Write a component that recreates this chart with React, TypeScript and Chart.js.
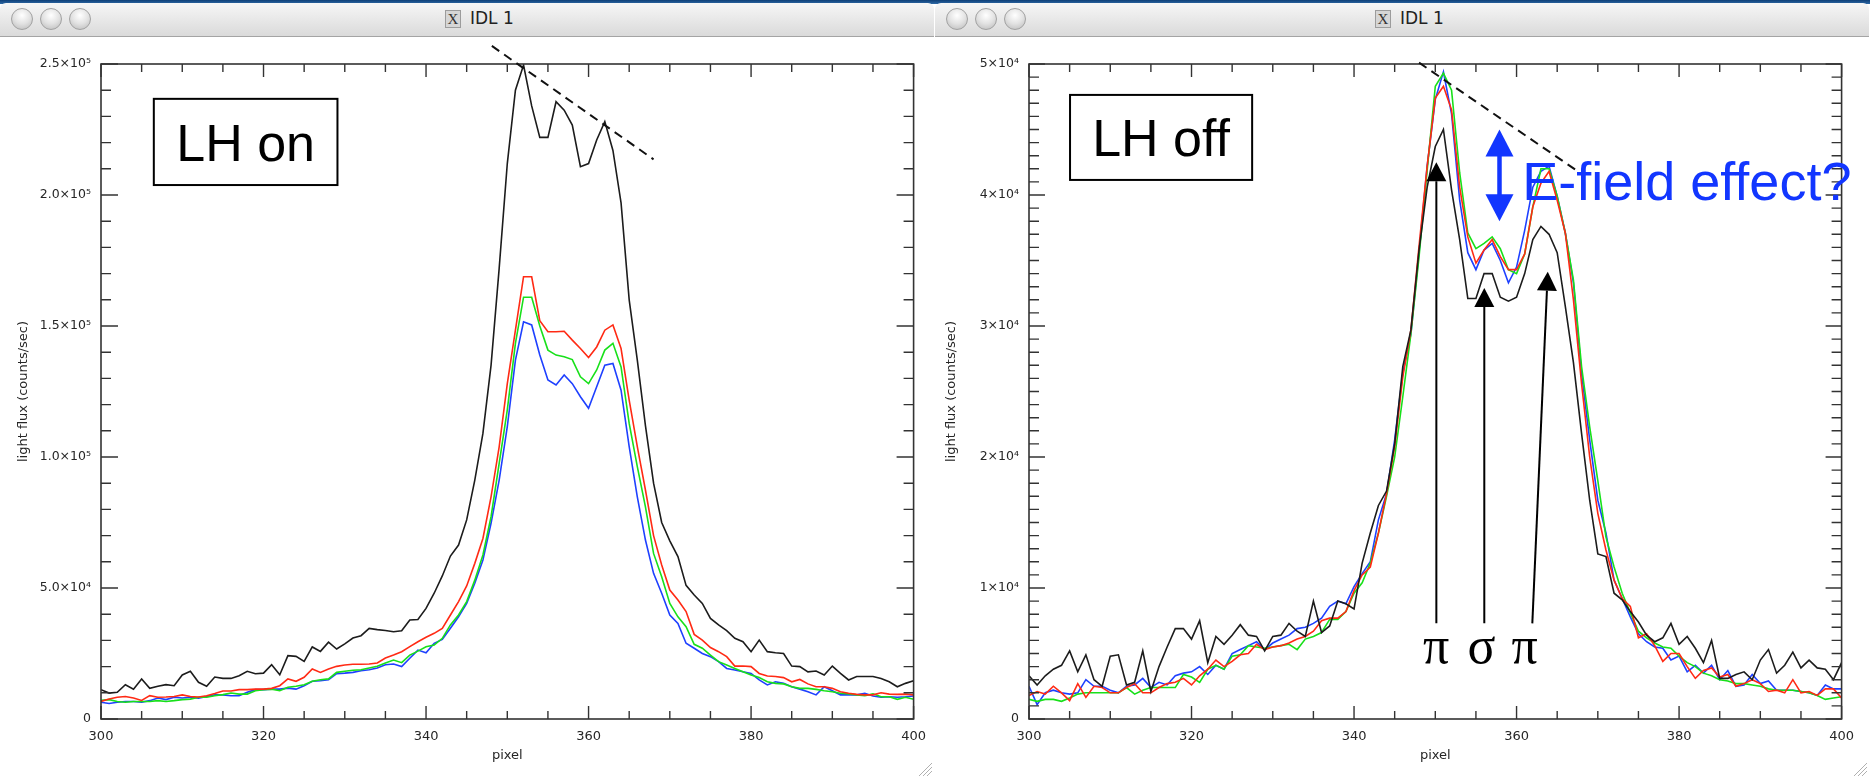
import React, { useEffect, useRef } from "react";
import { Chart, registerables } from "chart.js";

Chart.register(...registerables);

// ---------- data ----------
const PIXELS = Array.from({ length: 101 }, (_, i) => 300 + i);

const X_TICKS = [300, 320, 340, 360, 380, 400];
const X_TICK_LABELS = ["300", "320", "340", "360", "380", "400"];

// LH on panel (values in 10^3 counts/sec)
const ON_Y_TICKS = [0, 50, 100, 150, 200, 250];
const ON_Y_TICK_LABELS = ["0", "5.0×10⁴", "1.0×10⁵", "1.5×10⁵", "2.0×10⁵", "2.5×10⁵"];

const ON_BLACK = [
  11.2, 9.9, 10.2, 13.1, 11.4, 15.3, 11.7, 12.5, 13.1, 12.7,
  16.8, 18.2, 14.0, 12.5, 16.0, 15.5, 15.5, 16.5, 18.2, 17.3,
  17.5, 20.7, 16.9, 24.2, 23.9, 22.0, 27.5, 25.8, 29.3, 26.7,
  28.7, 30.9, 31.8, 34.6, 34.1, 33.8, 33.3, 33.7, 37.8, 38.0,
  42.2, 48.0, 54.6, 62.2, 66.4, 76.0, 91.2, 109, 135, 172,
  212, 240, 249.6, 234, 222, 222, 235.6, 232.4, 226.7, 210.8,
  212, 221, 228, 217, 197, 160, 137, 112, 90, 75,
  68, 62, 51, 47.3, 44.1, 38.4, 35.9, 33.7, 30.8, 29.5,
  25.7, 30.1, 25.7, 25.3, 25.0, 20.2, 20.0, 18.0, 18.3, 16.8,
  20.2, 17.4, 14.9, 16.2, 16.2, 16.2, 15.5, 14.2, 12.3, 13.6,
  14.6,
];
const ON_RED = [
  6.7, 7.6, 8.3, 8.6, 8.0, 7.1, 8.9, 8.3, 8.4, 8.6,
  9.2, 8.6, 8.4, 8.9, 9.7, 10.7, 10.7, 11.2, 11.2, 11.4,
  11.4, 11.7, 12.7, 15.3, 14.4, 15.9, 19.1, 17.8, 19.1, 20.1,
  20.6, 20.9, 20.9, 21.0, 21.4, 23.3, 24.4, 25.7, 27.6, 29.5,
  31.2, 32.7, 34.6, 39.7, 44.8, 50.8, 59.4, 68.9, 84.8, 103.9,
  128, 148.4, 168.8, 168.8, 152, 147.8, 147.8, 148, 144.6, 141.4,
  138, 142, 148.4, 150.4, 141.4, 121.7, 104, 87.4, 70, 58.8,
  49.2, 45.4, 41.0, 32.3, 30.1, 27.3, 25.7, 23.8, 20.2, 20.2,
  20.0, 17.4, 16.4, 16.2, 15.8, 14.2, 15.1, 13.4, 12.3, 12.3,
  11.7, 10.4, 9.8, 9.4, 9.2, 9.2, 10.0, 9.5, 9.4, 9.5,
  9.2,
];
const ON_GREEN = [
  7.1, 7.4, 6.7, 6.4, 6.7, 6.7, 6.7, 7.0, 6.7, 7.0,
  7.4, 7.6, 8.3, 8.3, 8.9, 9.3, 9.9, 9.5, 9.5, 10.8,
  11.2, 11.4, 10.8, 12.1, 12.5, 13.1, 14.4, 15.0, 15.3, 17.8,
  18.2, 18.6, 18.8, 19.5, 20.1, 21.4, 22.5, 21.5, 24.4, 25.9,
  27.6, 28.2, 30.8, 35.9, 39.7, 44.8, 53.0, 62.6, 77.2, 97.6,
  118, 143.4, 161, 161, 150, 140.8, 138.9, 138.3, 137.2, 130.6,
  128, 133.2, 140.8, 143.4, 134.4, 112.8, 96.3, 81.0, 63.2, 54.3,
  44.1, 39.0, 35.2, 28.5, 27.0, 24.4, 21.9, 20.6, 19.3, 18.0,
  16.8, 15.8, 14.2, 13.6, 13.4, 12.3, 11.7, 11.7, 11.3, 10.8,
  10.4, 9.8, 9.6, 9.2, 8.9, 9.6, 8.5, 8.5, 7.5, 8.3,
  7.5,
];
const ON_BLUE = [
  6.4, 5.9, 6.4, 6.7, 6.7, 6.4, 7.0, 8.0, 7.4, 8.3,
  8.0, 8.3, 7.9, 8.6, 9.2, 9.2, 8.9, 8.9, 10.2, 11.2,
  11.2, 11.4, 11.4, 11.8, 11.4, 12.7, 14.4, 14.6, 15.0, 17.3,
  17.5, 17.8, 18.4, 18.8, 19.5, 20.7, 21.0, 20.0, 23.2, 26.3,
  25.3, 28.9, 30.4, 34.6, 39.0, 44.1, 51.8, 60.7, 74.7, 91.2,
  111.6, 137, 151.6, 150.4, 138.9, 129.4, 127.5, 131.3, 128, 123,
  118.6, 126.8, 135, 135.7, 125.5, 104, 84.8, 68.3, 55.6, 48.0,
  39.7, 36.5, 28.9, 27.0, 25.0, 23.8, 21.9, 19.3, 18.7, 18.0,
  17.4, 14.9, 13.0, 14.2, 13.6, 12.3, 11.4, 10.4, 9.2, 12.3,
  10.8, 9.2, 9.2, 9.2, 9.8, 8.8, 8.3, 8.5, 8.3, 8.5,
  8.8,
];

// LH off panel (values in 10^3 counts/sec)
const OFF_Y_TICKS = [0, 10, 20, 30, 40, 50];
const OFF_Y_TICK_LABELS = ["0", "1×10⁴", "2×10⁴", "3×10⁴", "4×10⁴", "5×10⁴"];

const OFF_BLACK = [
  3.3, 2.6, 3.3, 3.8, 4.1, 5.2, 3.6, 4.9, 3.0, 2.5,
  4.8, 4.9, 2.6, 2.8, 5.2, 2.1, 4.0, 5.5, 6.9, 6.9,
  6.1, 7.5, 4.3, 6.3, 5.7, 6.4, 7.2, 6.4, 6.3, 5.2,
  6.3, 6.4, 7.3, 6.7, 6.3, 9.0, 6.6, 7.1, 9.0, 8.8,
  8.4, 11.9, 14.2, 16.3, 17.4, 21.0, 26.9, 29.7, 35.8, 40.6,
  43.7, 45.0, 40.4, 36.6, 32.1, 32.1, 34.0, 34.0, 32.2, 31.9,
  32.2, 34.0, 36.6, 37.6, 37.0, 35.6, 31.5, 27.2, 21.8, 16.7,
  12.6, 12.4, 9.6, 9.1, 8.2, 7.4, 6.4, 5.9, 6.2, 7.3,
  5.7, 6.3, 5.4, 4.3, 6.0, 3.1, 3.1, 3.4, 3.6, 3.0,
  4.5, 5.3, 3.5, 4.1, 5.1, 3.9, 4.5, 3.9, 3.8, 3.0,
  4.3,
];
const OFF_RED = [
  1.8, 2.1, 1.9, 2.5, 2.0, 1.4, 2.7, 1.65, 2.5, 2.4,
  2.0, 2.0, 2.4, 2.7, 2.0, 2.0, 2.4, 2.7, 2.8, 3.1,
  2.6, 3.3, 3.8, 4.5, 4.0, 4.4, 4.9, 5.0, 5.7, 5.3,
  5.5, 5.6, 5.8, 6.1, 6.3, 6.7, 7.5, 7.7, 7.7, 8.2,
  9.8, 11.0, 11.6, 14.2, 17.2, 20.8, 26.1, 29.7, 36.1, 42.2,
  47.4, 48.3, 46.5, 40.6, 36.8, 34.8, 35.8, 36.6, 35.3, 34.3,
  34.3, 35.5, 39.1, 40.9, 41.8, 39.6, 37.1, 32.0, 25.6, 20.0,
  15.7, 12.9, 10.6, 9.2, 8.6, 6.2, 6.5, 5.6, 4.4, 5.0,
  5.0, 4.0, 3.1, 3.7, 3.9, 3.2, 3.4, 2.5, 2.7, 3.0,
  2.7, 2.1, 2.2, 2.0, 3.0, 2.0, 2.1, 1.8, 2.3, 2.3,
  1.6,
];
const OFF_GREEN = [
  1.5, 1.35, 1.5, 1.5, 1.35, 1.6, 1.9, 2.0, 2.0, 2.0,
  2.0, 2.0, 2.4, 1.9, 2.2, 2.4, 2.4, 2.4, 2.4, 3.4,
  3.2, 2.8, 3.8, 4.1, 3.8, 4.8, 4.9, 5.6, 5.5, 5.4,
  5.5, 5.6, 5.7, 5.3, 6.1, 6.3, 6.6, 7.6, 7.6, 8.2,
  9.6, 10.4, 11.9, 14.2, 17.0, 20.0, 24.6, 29.4, 35.3, 41.9,
  48.3, 49.3, 48.0, 41.7, 37.1, 35.9, 36.3, 36.8, 35.9, 34.3,
  34.0, 35.5, 39.1, 42.0, 42.0, 39.9, 37.1, 33.5, 26.9, 22.3,
  18.2, 13.9, 11.6, 9.6, 8.1, 6.7, 6.2, 5.8, 5.5, 5.4,
  4.8, 4.3, 4.0, 3.5, 3.3, 3.0, 2.9, 2.7, 2.7, 2.6,
  2.5, 2.3, 2.2, 2.2, 2.2, 2.1, 2.0, 1.8, 1.5, 1.6,
  1.7,
];
const OFF_BLUE = [
  2.5, 1.1, 2.0, 2.2, 2.0, 1.9, 2.0, 3.0, 2.5, 2.5,
  2.2, 2.0, 2.5, 2.6, 3.1, 2.4, 2.8, 2.6, 3.3, 3.5,
  3.6, 4.0, 3.4, 4.1, 3.8, 5.0, 5.3, 5.6, 5.9, 5.3,
  5.8, 6.1, 6.4, 6.9, 7.0, 7.3, 7.7, 8.6, 9.0, 8.8,
  10.1, 11.1, 12.0, 15.2, 17.2, 21.3, 26.4, 29.4, 35.6, 42.2,
  47.3, 49.4, 46.2, 39.6, 35.6, 34.3, 35.8, 36.3, 35.0, 33.3,
  34.5, 37.3, 40.6, 41.8, 42.2, 39.9, 37.1, 33.3, 26.4, 21.3,
  16.7, 14.2, 10.6, 9.2, 7.8, 6.5, 5.9, 5.5, 5.4, 4.5,
  4.8, 3.6, 4.1, 3.5, 4.1, 3.0, 3.7, 2.5, 2.6, 3.4,
  2.7, 2.9, 2.2, 2.2, 2.2, 2.1, 2.0, 1.8, 2.6, 2.3,
  2.3,
];

// annotations (data coordinates: pixel, 10^3 counts/sec)
const ON_DASH_LINE = [[348.1, 256.9], [368.0, 213.6]];
const ON_LABEL_BOX = [[306.5, 236.7], [329.1, 203.8]];
const OFF_DASH_LINE = [[348.0, 50.1], [367.8, 41.7]];
const OFF_LABEL_BOX = [[305.05, 47.64], [327.46, 41.15]];
const FIELD_ARROW = [[357.9, 45.0], [357.9, 38.0]];
const FIELD_TEXT_AT = [360.7, 39.6];
const LINE_ARROWS = [
  [[350.13, 7.3], [350.13, 42.5]],
  [[356.03, 7.3], [356.03, 32.9]],
  [[361.94, 7.3], [363.84, 34.15]],
];
const GREEK_LABELS = ["π", "σ", "π"];
const GREEK_X = [350.1, 355.7, 361.0];
const GREEK_BASELINE = 4.3;

// ---------- styles ----------
const C_BLACK = "#1c1c1c";
const C_RED = "#ff2a14";
const C_GREEN = "#18e01a";
const C_BLUE = "#1e40ff";
const AXIS = "#333333";
const TXT = "#262626";
const FIELD_BLUE = "#1236ff";

type Spec = {
  series: { values: number[]; color: string }[];
  yMax: number;
  yTicks: number[];
  yTickLabels: string[];
  yMinor: number;
  yMajorLen: number;
  label: string;
  dash: number[][];
  box: number[][];
  extra: boolean;
};

function arrowHead(ctx: CanvasRenderingContext2D, tx: number, ty: number, ang: number, len: number, w: number) {
  const bx = tx - Math.cos(ang) * len;
  const by = ty - Math.sin(ang) * len;
  ctx.beginPath();
  ctx.moveTo(tx, ty);
  ctx.lineTo(bx + Math.sin(ang) * w / 2, by - Math.cos(ang) * w / 2);
  ctx.lineTo(bx - Math.sin(ang) * w / 2, by + Math.cos(ang) * w / 2);
  ctx.closePath();
  ctx.fill();
  return [bx, by];
}

function makePlugin(spec: Spec) {
  return {
    id: "idlFrame",
    afterDatasetsDraw(chart: any) {
      const { ctx, chartArea: a } = chart;
      const xs = chart.scales.x;
      const ys = chart.scales.y;
      const X = (v: number) => xs.getPixelForValue(v);
      const Y = (v: number) => ys.getPixelForValue(v);
      ctx.save();

      // frame
      ctx.strokeStyle = AXIS;
      ctx.lineWidth = 1.6;
      ctx.strokeRect(a.left, a.top, a.right - a.left, a.bottom - a.top);

      // ticks (inside, mirrored)
      ctx.lineWidth = 1.4;
      ctx.beginPath();
      for (let v = 300; v <= 400.001; v += 5) {
        const px = X(v);
        const major = Math.abs((v - 300) % 20) < 1e-6;
        const len = major ? 13 : 8;
        ctx.moveTo(px, a.bottom);
        ctx.lineTo(px, a.bottom - len);
        ctx.moveTo(px, a.top);
        ctx.lineTo(px, a.top + len);
      }
      const yStep = spec.yTicks[1] - spec.yTicks[0];
      for (let v = 0; v <= spec.yMax + 1e-6; v += spec.yMinor) {
        const py = Y(v);
        const r = v / yStep;
        const major = Math.abs(r - Math.round(r)) < 1e-6;
        const len = major ? spec.yMajorLen : 10;
        ctx.moveTo(a.left, py);
        ctx.lineTo(a.left + len, py);
        ctx.moveTo(a.right, py);
        ctx.lineTo(a.right - len, py);
      }
      ctx.stroke();

      // dashed line
      ctx.strokeStyle = "#111";
      ctx.lineWidth = 2;
      ctx.setLineDash([9, 6]);
      ctx.beginPath();
      ctx.moveTo(X(spec.dash[0][0]), Y(spec.dash[0][1]));
      ctx.lineTo(X(spec.dash[1][0]), Y(spec.dash[1][1]));
      ctx.stroke();
      ctx.setLineDash([]);

      // label box
      const bx0 = X(spec.box[0][0]);
      const by0 = Y(spec.box[0][1]);
      const bx1 = X(spec.box[1][0]);
      const by1 = Y(spec.box[1][1]);
      ctx.fillStyle = "#ffffff";
      ctx.fillRect(bx0, by0, bx1 - bx0, by1 - by0);
      ctx.strokeStyle = "#000";
      ctx.lineWidth = 2;
      ctx.strokeRect(bx0, by0, bx1 - bx0, by1 - by0);
      ctx.fillStyle = "#000";
      ctx.font = '52px "Liberation Sans", Arial, sans-serif';
      ctx.textAlign = "center";
      ctx.textBaseline = "alphabetic";
      ctx.fillText(spec.label, (bx0 + bx1) / 2, (by0 + by1) / 2 + 19);

      if (spec.extra) {
        // black arrows
        ctx.strokeStyle = "#000";
        ctx.fillStyle = "#000";
        ctx.lineWidth = 2;
        for (const ar of LINE_ARROWS) {
          const x0 = X(ar[0][0]);
          const y0 = Y(ar[0][1]);
          const x1 = X(ar[1][0]);
          const y1 = Y(ar[1][1]);
          const ang = Math.atan2(y1 - y0, x1 - x0);
          const [hx, hy] = arrowHead(ctx, x1, y1, ang, 19, 20);
          ctx.beginPath();
          ctx.moveTo(x0, y0);
          ctx.lineTo(hx, hy);
          ctx.stroke();
        }
        // greek labels
        ctx.font = '52px "Liberation Serif", "DejaVu Serif", serif';
        ctx.textAlign = "center";
        GREEK_LABELS.forEach((g, i) => ctx.fillText(g, X(GREEK_X[i]), Y(GREEK_BASELINE)));

        // blue double arrow
        ctx.strokeStyle = FIELD_BLUE;
        ctx.fillStyle = FIELD_BLUE;
        const fx = X(FIELD_ARROW[0][0]);
        const ft = Y(FIELD_ARROW[0][1]);
        const fb = Y(FIELD_ARROW[1][1]);
        arrowHead(ctx, fx, ft, -Math.PI / 2, 27, 28);
        arrowHead(ctx, fx, fb, Math.PI / 2, 27, 28);
        ctx.lineWidth = 4.5;
        ctx.beginPath();
        ctx.moveTo(fx, ft + 26);
        ctx.lineTo(fx, fb - 26);
        ctx.stroke();

        ctx.font = '54px "Liberation Sans", Arial, sans-serif';
        ctx.textAlign = "left";
        ctx.fillText("E-field effect?", X(FIELD_TEXT_AT[0]), Y(FIELD_TEXT_AT[1]));
      }
      ctx.restore();
    },
  };
}

function buildChart(canvas: HTMLCanvasElement, spec: Spec) {
  const datasets = spec.series.map((s) => ({
    data: PIXELS.map((p, i) => ({ x: p, y: s.values[i] })),
    borderColor: s.color,
    borderWidth: 1.6,
    pointRadius: 0,
    tension: 0,
    fill: false,
  }));
  const tickFont = { family: "'DejaVu Sans', sans-serif", size: 13 };
  return new Chart(canvas, {
    type: "line",
    data: { datasets } as any,
    options: {
      animation: false,
      responsive: false,
      maintainAspectRatio: false,
      layout: { padding: { top: 26, right: 19, left: 0, bottom: 0 } },
      plugins: { legend: { display: false }, tooltip: { enabled: false } },
      scales: {
        x: {
          type: "linear",
          min: 300,
          max: 400,
          afterBuildTicks: (s: any) => {
            s.ticks = X_TICKS.map((v) => ({ value: v }));
          },
          afterFit: (s: any) => {
            s.height = 58;
          },
          ticks: {
            autoSkip: false,
            maxRotation: 0,
            padding: 10,
            color: TXT,
            font: tickFont,
            callback: (v: any) => X_TICK_LABELS[X_TICKS.indexOf(Number(v))],
          },
          grid: { display: false, drawTicks: false },
          border: { display: false },
          title: {
            display: true,
            text: "pixel",
            color: TXT,
            font: { family: "'DejaVu Sans', sans-serif", size: 13 },
            padding: { top: 0, bottom: 14 },
          },
        },
        y: {
          type: "linear",
          min: 0,
          max: spec.yMax,
          afterBuildTicks: (s: any) => {
            s.ticks = spec.yTicks.map((v) => ({ value: v }));
          },
          afterFit: (s: any) => {
            s.width = 101;
          },
          ticks: {
            autoSkip: false,
            padding: 10,
            color: TXT,
            font: { family: "'DejaVu Sans', sans-serif", size: 12.5 },
            callback: (v: any) => spec.yTickLabels[spec.yTicks.indexOf(Number(v))],
          },
          grid: { display: false, drawTicks: false },
          border: { display: false },
          title: {
            display: true,
            text: "light flux (counts/sec)",
            color: TXT,
            font: { family: "'DejaVu Sans', sans-serif", size: 13 },
            padding: { top: 16, bottom: 0 },
          },
        },
      },
    } as any,
    plugins: [makePlugin(spec)],
  });
}

function Panel({ spec, left }: { spec: Spec; left: number }) {
  const ref = useRef<HTMLCanvasElement>(null);
  useEffect(() => {
    const chart = buildChart(ref.current as HTMLCanvasElement, spec);
    return () => chart.destroy();
  }, []);
  return (
    <canvas
      ref={ref}
      width={936}
      height={739}
      style={{ position: "absolute", left, top: 38, width: 936, height: 739 }}
    />
  );
}

function TitleBar({ left, xIcon, textLeft }: { left: number; xIcon: number; textLeft: number }) {
  return (
    <div
      style={{
        position: "absolute",
        left,
        top: 3,
        width: 934,
        height: 33,
        background: "linear-gradient(#f6f6f6, #dadada)",
        borderBottom: "1px solid #a4a4a4",
        borderTopLeftRadius: 6,
        borderTopRightRadius: 6,
      }}
    >
      {[22, 51, 80].map((cx) => (
        <div
          key={cx}
          style={{
            position: "absolute",
            left: cx - 11,
            top: 5,
            width: 22,
            height: 22,
            borderRadius: "50%",
            boxSizing: "border-box",
            border: "1px solid #a2a2a2",
            background: "radial-gradient(circle at 50% 32%, #ffffff 0%, #e2e2e2 50%, #b8b8b8 100%)",
          }}
        />
      ))}
      <div
        style={{
          position: "absolute",
          left: xIcon,
          top: 7,
          width: 16,
          height: 18,
          boxSizing: "border-box",
          background: "#d6d6d6",
          border: "1px solid #9c9c9c",
          font: '15px "Liberation Serif", serif',
          lineHeight: "16px",
          textAlign: "center",
          color: "#333",
        }}
      >
        X
      </div>
      <div
        style={{
          position: "absolute",
          left: textLeft,
          top: 5,
          font: '17px "DejaVu Sans", sans-serif',
          lineHeight: "21px",
          color: "#222",
          whiteSpace: "nowrap",
        }}
      >
        IDL 1
      </div>
    </div>
  );
}

function Grip({ left }: { left: number }) {
  return (
    <svg style={{ position: "absolute", left, top: 761, width: 16, height: 16 }} width={16} height={16}>
      <line x1={2} y1={15} x2={15} y2={2} stroke="#b0b0b0" strokeWidth={1} />
      <line x1={6} y1={15} x2={15} y2={6} stroke="#b0b0b0" strokeWidth={1} />
      <line x1={10} y1={15} x2={15} y2={10} stroke="#b0b0b0" strokeWidth={1} />
    </svg>
  );
}

const ON_SPEC: Spec = {
  series: [
    { values: ON_BLACK, color: C_BLACK },
    { values: ON_RED, color: C_RED },
    { values: ON_GREEN, color: C_GREEN },
    { values: ON_BLUE, color: C_BLUE },
  ],
  yMax: 250,
  yTicks: ON_Y_TICKS,
  yTickLabels: ON_Y_TICK_LABELS,
  yMinor: 10,
  yMajorLen: 17,
  label: "LH on",
  dash: ON_DASH_LINE,
  box: ON_LABEL_BOX,
  extra: false,
};

const OFF_SPEC: Spec = {
  series: [
    { values: OFF_BLACK, color: C_BLACK },
    { values: OFF_RED, color: C_RED },
    { values: OFF_GREEN, color: C_GREEN },
    { values: OFF_BLUE, color: C_BLUE },
  ],
  yMax: 50,
  yTicks: OFF_Y_TICKS,
  yTickLabels: OFF_Y_TICK_LABELS,
  yMinor: 1,
  yMajorLen: 16,
  label: "LH off",
  dash: OFF_DASH_LINE,
  box: OFF_LABEL_BOX,
  extra: true,
};

export default function App() {
  useEffect(() => {
    document.body.style.margin = "0";
    document.body.style.overflow = "hidden";
  }, []);
  return (
    <div style={{ position: "absolute", left: 0, top: 0, width: 1870, height: 777, background: "#ffffff", overflow: "hidden" }}>
      <div style={{ position: "absolute", left: 0, top: 0, width: 1870, height: 4, background: "linear-gradient(#0d3f78, #2f6aa6)" }} />
      <TitleBar left={0} xIcon={445} textLeft={470} />
      <TitleBar left={935} xIcon={1375 - 935} textLeft={1400 - 935} />
      <Panel spec={ON_SPEC} left={0} />
      <Panel spec={OFF_SPEC} left={928} />
      <Grip left={917} />
      <Grip left={1852} />
    </div>
  );
}
